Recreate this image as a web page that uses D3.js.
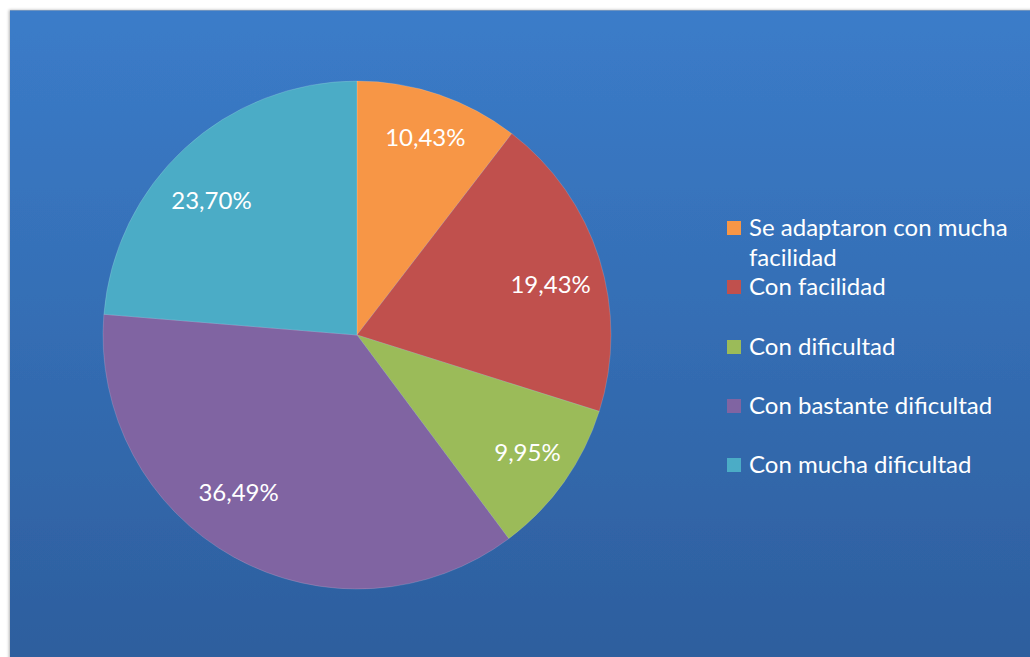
<!DOCTYPE html>
<html><head><meta charset="utf-8">
<script src="https://cdn.jsdelivr.net/npm/d3@7"></script>
<style>body{margin:0;background:#fff}svg{display:block}</style>
</head><body>
<script>
const categories = ["Se adaptaron con mucha facilidad","Con facilidad","Con dificultad","Con bastante dificultad","Con mucha dificultad"];
const values = [10.43, 19.43, 9.95, 36.49, 23.70];
const labels = ["10,43%","19,43%","9,95%","36,49%","23,70%"];
const colors = ["#F79646","#C0504D","#9BBB59","#8064A2","#4BACC6"];
const legendLines = [["Se adaptaron con mucha","facilidad"],["Con facilidad"],["Con dificultad"],["Con bastante dificultad"],["Con mucha dificultad"]];

const W=1030,H=657;
const svg=d3.select("body").append("svg").attr("width",W).attr("height",H);
const defs=svg.append("defs");
const g=defs.append("linearGradient").attr("id","bg").attr("x1",0).attr("y1",0).attr("x2",0).attr("y2",1);
g.append("stop").attr("offset","0%").attr("stop-color","#3b7cc9");
g.append("stop").attr("offset","100%").attr("stop-color","#2d5e9d");
const f=defs.append("filter").attr("id","sh").attr("x","-5%").attr("y","-5%").attr("width","110%").attr("height","110%");
f.append("feDropShadow").attr("dx",-1).attr("dy",0).attr("stdDeviation",1.5).attr("flood-color","#000").attr("flood-opacity",0.3);
svg.append("rect").attr("x",10).attr("y",10).attr("width",W).attr("height",H).attr("fill","url(#bg)").attr("filter","url(#sh)");
svg.append("line").attr("x1",10).attr("x2",W).attr("y1",10.5).attr("y2",10.5).attr("stroke","#6f94c0").attr("stroke-width",1);

const FONT="Lato, 'Open Sans', sans-serif";
const cx=357,cy=335,R=254;
const pie=d3.pie().sort(null).value(d=>d)(values);
const arc=d3.arc().innerRadius(0).outerRadius(R);
const lab=d3.arc().innerRadius(203).outerRadius(203);
// best-fit style nudges for the data labels
const nudge=[[3,-5],[0,11],[5,0],[-20,-20],[-8,15]];
const pg=svg.append("g").attr("transform",`translate(${cx},${cy})`);
pg.selectAll("path").data(pie).join("path").attr("d",arc).attr("fill",(d,i)=>colors[i])
  .attr("stroke","rgba(255,255,255,0.25)").attr("stroke-width",0.6);
pg.selectAll("text").data(pie).join("text")
  .attr("transform",(d,i)=>{const c=lab.centroid(d);return `translate(${c[0]+nudge[i][0]},${c[1]+nudge[i][1]})`;})
  .attr("text-anchor","middle").attr("dy","0.35em")
  .attr("fill","#fff").style("font-family",FONT).style("font-size","24px")
  .text((d,i)=>labels[i]);

const rowsY=[228,287,347,406,465];
const lg=svg.append("g");
categories.forEach((c,i)=>{
  lg.append("rect").attr("x",727).attr("y",rowsY[i]-7).attr("width",14).attr("height",14).attr("fill",colors[i]);
  const t=lg.append("text").attr("x",749).attr("y",rowsY[i]).attr("fill","#fff")
    .style("font-family",FONT).style("font-size","24px");
  legendLines[i].forEach((l,j)=>t.append("tspan").attr("x",749).attr("dy",j===0?"0.35em":"30px").text(l));
});
</script>
</body></html>
